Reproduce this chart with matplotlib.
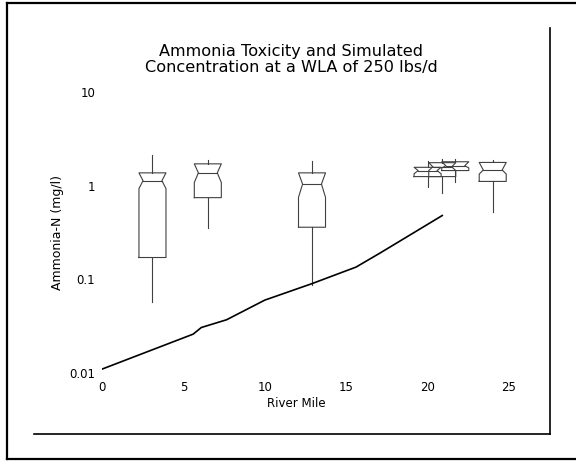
import numpy as np
import matplotlib
matplotlib.use("Agg")
import matplotlib.pyplot as plt
from matplotlib.lines import Line2D

# concentracao simulada ao longo do rio
milha = [0, 5.6, 6.1, 7.65, 10.0, 12.9, 14.7, 15.6, 17.06, 20.9]
conc_sim = [0.011, 0.026, 0.0306, 0.037, 0.060, 0.090, 0.118, 0.135, 0.19, 0.48]

# toxicidade observada (boxplots com entalhe)
pos_box = [3.1, 6.5, 12.9, 20.0, 20.9, 21.7, 24.0]
bigode_inf = [0.057, 0.357, 0.088, 0.96, 0.83, 1.10, 0.52]
q1 = [0.171, 0.745, 0.36, 1.25, 1.25, 1.45, 1.11]
ic_inf = [0.93, 1.08, 0.75, 1.34, 1.45, 1.55, 1.33]
mediana = [1.13, 1.37, 1.04, 1.45, 1.59, 1.63, 1.47]
ic_sup = [1.37, 1.71, 1.37, 1.57, 1.76, 1.80, 1.77]
q3 = [1.37, 1.71, 1.37, 1.57, 1.76, 1.80, 1.77]
bigode_sup = [2.14, 1.89, 1.82, 1.82, 1.94, 1.94, 1.88]

xticks = [0, 5, 10, 15, 20, 25]
yticks = [0.01, 0.1, 1, 10]
ytick_labels = ["0.01", "0.1", "1", "10"]

W, H = 576, 461
fig = plt.figure(figsize=(W / 100, H / 100), dpi=100)
ax = fig.add_axes([102 / W, 1 - 373 / H, (509 - 102) / W, (373 - 92) / H])
ax.set_yscale("log")
ax.set_xlim(0, 25)
ax.set_ylim(0.01, 10)
for s in ax.spines.values():
    s.set_visible(False)
ax.set_xticks(xticks)
ax.set_xticklabels([str(t) for t in xticks])
ax.set_yticks(yticks)
ax.set_yticklabels(ytick_labels)
ax.yaxis.set_minor_locator(matplotlib.ticker.NullLocator())
ax.tick_params(axis="both", length=0, labelsize=8.5)
ax.tick_params(axis="x", pad=6)
ax.tick_params(axis="y", pad=5)

meia = 0.83
meia_ent = 0.58
cor_box = "#404040"
for i in range(len(pos_box)):
    p = pos_box[i]
    xs = [p - meia, p + meia, p + meia, p + meia_ent, p + meia, p + meia,
          p - meia, p - meia, p - meia_ent, p - meia, p - meia]
    ys = [q1[i], q1[i], ic_inf[i], mediana[i], ic_sup[i], q3[i],
          q3[i], ic_sup[i], mediana[i], ic_inf[i], q1[i]]
    ax.plot(xs, ys, color=cor_box, lw=0.8)
    ax.plot([p - meia_ent, p + meia_ent], [mediana[i], mediana[i]], color=cor_box, lw=0.8)
    ax.plot([p, p], [bigode_inf[i], q1[i]], color=cor_box, lw=0.8)
    ax.plot([p, p], [max(q3[i], ic_sup[i]), bigode_sup[i]], color=cor_box, lw=0.8)

ax.plot(milha, conc_sim, color="black", lw=1.2)

# titulo e rotulos
fig.text(291 / W, 1 - 56 / H, "Ammonia Toxicity and Simulated", ha="center",
         va="baseline", fontsize=11.6)
fig.text(291 / W, 1 - 72 / H, "Concentration at a WLA of 250 lbs/d", ha="center",
         va="baseline", fontsize=11.6)
fig.text(296 / W, 1 - 403 / H, "River Mile", ha="center", va="center", fontsize=8.5)
fig.text(58 / W, 1 - 232 / H, "Ammonia-N (mg/l)", ha="center", va="center",
         rotation=90, fontsize=9)

# molduras
def linha(x0, y0, x1, y1, lw):
    fig.add_artist(Line2D([x0 / W, x1 / W], [1 - y0 / H, 1 - y1 / H],
                          color="black", lw=lw, transform=fig.transFigure))

linha(7, 3, 576, 3, 1.6)
linha(7, 3, 7, 459, 1.6)
linha(7, 459, 576, 459, 1.6)
linha(550, 28, 550, 434, 1.2)
linha(34, 434, 550, 434, 1.2)

fig.savefig("out.png", dpi=100)
